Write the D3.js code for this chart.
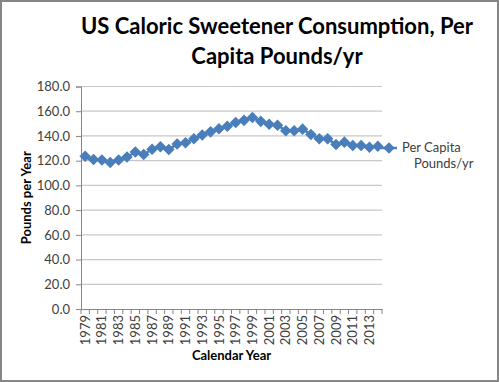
<!DOCTYPE html>
<html>
<head>
<meta charset="utf-8">
<script src="https://cdn.jsdelivr.net/npm/d3@7"></script>
<style>
  body { margin: 0; background: #fff; }
  text { font-family: Lato, "Open Sans", sans-serif; }
</style>
</head>
<body>
<script>
var years = ["1979","1980","1981","1982","1983","1984","1985","1986","1987","1988",
  "1989","1990","1991","1992","1993","1994","1995","1996","1997","1998",
  "1999","2000","2001","2002","2003","2004","2005","2006","2007","2008",
  "2009","2010","2011","2012","2013","2014"];

var perCapita = [123.5, 121.0, 120.6, 118.5, 120.5, 123.0, 127.0, 125.0, 129.2, 131.3,
  129.0, 133.5, 134.5, 137.8, 140.8, 143.3, 145.8, 147.8, 150.8, 152.6,
  154.9, 151.8, 149.4, 148.7, 144.2, 144.2, 145.5, 141.2, 137.7, 137.7,
  133.0, 135.0, 132.3, 132.3, 130.8, 131.6];

var yTicks = [0, 20, 40, 60, 80, 100, 120, 140, 160, 180];

var width = 499,
    height = 382;

var margin = {left: 81, right: 117, top: 86.5, bottom: 73};

var svg = d3.select("body").append("svg")
    .attr("width", width)
    .attr("height", height);

// outer frame
svg.append("rect")
    .attr("x", 1).attr("y", 1)
    .attr("width", width - 2).attr("height", height - 2)
    .attr("fill", "#fff")
    .attr("stroke", "#868686")
    .attr("stroke-width", 2);

var x = d3.scaleBand()
    .domain(years)
    .range([margin.left, width - margin.right]);

var y = d3.scaleLinear()
    .domain([0, 180])
    .range([height - margin.bottom, margin.top]);

// gridlines
svg.append("g")
  .selectAll("line")
  .data(yTicks.slice(1))
  .enter().append("line")
    .attr("x1", margin.left)
    .attr("x2", width - margin.right)
    .attr("y1", function(d) { return y(d); })
    .attr("y2", function(d) { return y(d); })
    .attr("stroke", "#c8c8c8")
    .attr("stroke-width", 1.2);

// y axis
var yAxis = svg.append("g")
    .attr("transform", "translate(" + margin.left + ",0)")
    .call(d3.axisLeft(y).tickValues(yTicks).tickSize(5).tickPadding(6)
      .tickFormat(d3.format(".1f")));
yAxis.select(".domain").attr("stroke", "#868686");
yAxis.selectAll(".tick line").attr("stroke", "#868686");
yAxis.selectAll(".tick text")
    .attr("fill", "#404040")
    .style("font-size", "13px")
    .style("font-family", "Lato, sans-serif");

// x axis
var xAxis = svg.append("g")
    .attr("transform", "translate(0," + y(0) + ")")
    .call(d3.axisBottom(x).tickSize(0).tickPadding(4)
      .tickValues(years.filter(function(d, i) { return i % 2 === 0; })));
xAxis.select(".domain").attr("stroke", "#868686");
xAxis.selectAll(".tick text")
    .attr("fill", "#404040")
    .style("font-size", "13px")
    .style("font-family", "Lato, sans-serif")
    .attr("transform", "rotate(-90)")
    .attr("text-anchor", "end")
    .attr("x", -6)
    .attr("y", 0)
    .attr("dy", "0.35em");

// category boundary ticks
var bounds = years.map(function(d) { return x(d); }).concat([x.range()[1]]);
svg.append("g")
  .selectAll("line")
  .data(bounds)
  .enter().append("line")
    .attr("x1", function(d) { return d; })
    .attr("x2", function(d) { return d; })
    .attr("y1", y(0))
    .attr("y2", y(0) + 5)
    .attr("stroke", "#868686");

// series
var line = d3.line()
    .x(function(d, i) { return x(years[i]) + x.bandwidth() / 2; })
    .y(function(d) { return y(d); });

svg.append("path")
    .datum(perCapita)
    .attr("fill", "none")
    .attr("stroke", "#4a7ebb")
    .attr("stroke-width", 2.5)
    .attr("d", line);

var diamond = d3.symbol().type(d3.symbolDiamond2).size(85);

svg.append("g")
  .selectAll("path")
  .data(perCapita)
  .enter().append("path")
    .attr("d", diamond)
    .attr("fill", "#4a7ebb")
    .attr("transform", function(d, i) {
      return "translate(" + (x(years[i]) + x.bandwidth() / 2) + "," + y(d) + ")";
    });

// titles
var title = svg.append("text")
    .attr("text-anchor", "middle")
    .attr("font-weight", "bold")
    .style("font-size", "22px")
    .attr("fill", "#000");
title.append("tspan").attr("x", 277).attr("y", 34).text("US Caloric Sweetener Consumption, Per");
title.append("tspan").attr("x", 277).attr("y", 64).text("Capita Pounds/yr");

svg.append("text")
    .attr("text-anchor", "middle")
    .attr("font-weight", "bold")
    .style("font-size", "13px")
    .attr("transform", "translate(31," + y(90) + ") rotate(-90)")
    .text("Pounds per Year");

svg.append("text")
    .attr("text-anchor", "middle")
    .attr("font-weight", "bold")
    .style("font-size", "13px")
    .attr("x", (margin.left + width - margin.right) / 2)
    .attr("y", 360)
    .text("Calendar Year");

// legend
var legend = svg.append("g").attr("transform", "translate(381,148)");
legend.append("line")
    .attr("x1", 0).attr("x2", 16)
    .attr("stroke", "#4a7ebb").attr("stroke-width", 2.5);
legend.append("path")
    .attr("d", diamond)
    .attr("fill", "#4a7ebb")
    .attr("transform", "translate(8,0)");
var legText = legend.append("text")
    .style("font-size", "13px")
    .attr("fill", "#404040");
legText.append("tspan").attr("x", 21).attr("y", 4).text("Per Capita");
legText.append("tspan").attr("x", 33).attr("y", 20).text("Pounds/yr");
</script>
</body>
</html>
